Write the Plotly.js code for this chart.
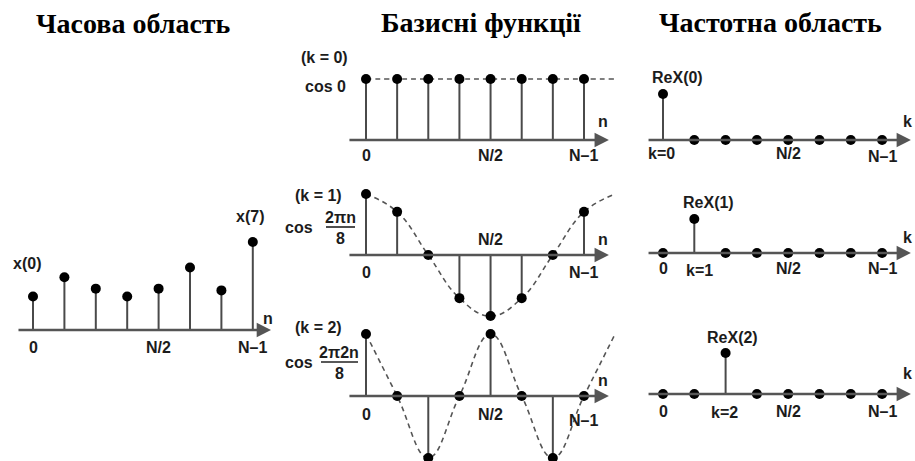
<!DOCTYPE html>
<html>
<head>
<meta charset="utf-8">
<script src="https://cdn.plot.ly/plotly-3.0.1.min.js"></script>
<style>
  html, body { margin: 0; padding: 0; background: #fff; }
  #chart { width: 915px; height: 461px; }
</style>
</head>
<body>
<div id="chart"></div>
<script>
// ---- data ----
const sampleN = [0, 1, 2, 3, 4, 5, 6, 7];
const curveN = [0, 1, 2, 3, 4, 5, 6, 7, 8];

// time-domain signal x(n)
const timeSignal = [0.38, 0.60, 0.47, 0.38, 0.47, 0.71, 0.45, 1.0];

// basis functions sampled at n = 0..7
const basisK0 = [1, 1, 1, 1, 1, 1, 1, 1];
const basisK1 = [1, 0.707, 0, -0.707, -1, -0.707, 0, 0.707];
const basisK2 = [1, 0, -1, 0, 1, 0, -1, 0];
// continuous (dashed) envelopes through n = 0..8
const curveK0 = [1, 1, 1, 1, 1, 1, 1, 1, 1];
const curveK1 = [1, 0.707, 0, -0.707, -1, -0.707, 0, 0.707, 1];
const curveK2 = [1, 0, -1, 0, 1, 0, -1, 0, 1];

// frequency domain: one nonzero ReX(k) per row
const spectrumK0 = [1.0, 0, 0, 0, 0, 0, 0, 0];
const spectrumK1 = [0, 0.74, 0, 0, 0, 0, 0, 0];
const spectrumK2 = [0, 0, 0.89, 0, 0, 0, 0, 0];

const tickLabels = ['0', 'N/2', 'N\u20131'];

// ---- layout helpers (pixel geometry of the 915x461 canvas) ----
const W = 915, H = 461;
const px = x => x / W;
const py = y => 1 - y / H;

// n0: pixel x of sample 0, step: pixels per sample, axisY: pixel y of zero,
// unit: pixels per unit of amplitude, L/R/T/B: pixel box of the panel
const panels = [
  { n0: 33,  step: 31.4,  axisY: 330, unit: 88, L: 0,   R: 300, T: 195, B: 361, x0: -0.51, x1: 7.58 },
  { n0: 366, step: 31.14, axisY: 140, unit: 61, L: 345, R: 625, T: 45,  B: 165, x0: -0.58, x1: 7.8 },
  { n0: 366, step: 31.14, axisY: 255, unit: 61, L: 345, R: 625, T: 170, B: 330, x0: -0.58, x1: 7.8 },
  { n0: 366, step: 31.14, axisY: 396, unit: 62, L: 345, R: 625, T: 310, B: 461, x0: -0.58, x1: 7.8 },
  { n0: 663, step: 31.3,  axisY: 140, unit: 46, L: 630, R: 915, T: 45,  B: 165, x0: -0.51, x1: 7.92 },
  { n0: 663, step: 31.3,  axisY: 253, unit: 46, L: 630, R: 915, T: 170, B: 300, x0: -0.51, x1: 7.92 },
  { n0: 663, step: 31.3,  axisY: 394, unit: 46, L: 630, R: 915, T: 310, B: 440, x0: -0.51, x1: 7.92 }
];

const suffix = i => (i === 0 ? '' : String(i + 1));

const layout = {
  width: W, height: H,
  margin: { l: 0, r: 0, t: 0, b: 0 },
  paper_bgcolor: '#fff', plot_bgcolor: 'rgba(0,0,0,0)',
  showlegend: false, hovermode: false,
  annotations: [], shapes: []
};

panels.forEach((p, i) => {
  const s = suffix(i);
  layout['xaxis' + s] = {
    domain: [px(p.L), px(p.R)],
    range: [(p.L - p.n0) / p.step, (p.R - p.n0) / p.step],
    visible: false, fixedrange: true, anchor: 'y' + s
  };
  layout['yaxis' + s] = {
    domain: [py(p.B), py(p.T)],
    range: [(p.axisY - p.B) / p.unit, (p.axisY - p.T) / p.unit],
    visible: false, fixedrange: true, anchor: 'x' + s
  };
  // horizontal axis with arrowhead
  layout.annotations.push({
    xref: 'x' + s, yref: 'y' + s, axref: 'x' + s, ayref: 'y' + s,
    x: p.x1, y: 0, ax: p.x0, ay: 0, text: '',
    showarrow: true, arrowhead: 2, arrowsize: 1.1, arrowwidth: 2.6,
    arrowcolor: '#555', standoff: 0
  });
});

// ---- traces ----
const traces = [];
const stemColor = '#4a4a4a';

function stems(xs, ys, s) {
  const sx = [], sy = [];
  xs.forEach((x, j) => { sx.push(x, x, null); sy.push(0, ys[j], null); });
  traces.push({
    type: 'scatter', mode: 'lines', x: sx, y: sy,
    xaxis: 'x' + s, yaxis: 'y' + s,
    line: { color: stemColor, width: 2 }, hoverinfo: 'skip'
  });
}
function dots(xs, ys, s) {
  traces.push({
    type: 'scatter', mode: 'markers', x: xs, y: ys,
    xaxis: 'x' + s, yaxis: 'y' + s,
    marker: { color: '#000', size: 10 }, hoverinfo: 'skip'
  });
}
function envelope(xs, ys, s) {
  traces.push({
    type: 'scatter', mode: 'lines', x: xs, y: ys,
    xaxis: 'x' + s, yaxis: 'y' + s,
    line: { color: '#555', width: 1.6, dash: '5px,4px', shape: 'spline', smoothing: 1.2 },
    hoverinfo: 'skip'
  });
}

// time domain
stems(sampleN, timeSignal, suffix(0));
dots(sampleN, timeSignal, suffix(0));

// basis functions
[[basisK0, curveK0], [basisK1, curveK1], [basisK2, curveK2]].forEach(([b, c], j) => {
  const s = suffix(j + 1);
  envelope(curveN, c, s);
  stems(sampleN, b, s);
  dots(sampleN, b, s);
});

// frequency domain
[spectrumK0, spectrumK1, spectrumK2].forEach((sp, j) => {
  const s = suffix(j + 4);
  stems(sampleN, sp, s);
  dots(sampleN, sp, s);
});

// ---- text ----
const labelFont = { family: 'Liberation Sans, Arial, sans-serif', size: 16, color: '#1c1c1c' };
const titleFont = { family: 'Liberation Serif, Times New Roman, serif', size: 28, color: '#000' };

function textAt(txt, x, y, font) {
  layout.annotations.push({
    xref: 'paper', yref: 'paper', x: px(x), y: py(y),
    xanchor: 'center', yanchor: 'middle', showarrow: false,
    text: txt, font: font || labelFont
  });
}
function tickAt(txt, s, n, y) {
  layout.annotations.push({
    xref: 'x' + s, yref: 'paper', x: n, y: py(y),
    xanchor: 'center', yanchor: 'middle', showarrow: false,
    text: '<b>' + txt + '</b>', font: labelFont
  });
}
function fractionBar(xa, xb, y) {
  layout.shapes.push({
    type: 'line', xref: 'paper', yref: 'paper',
    x0: px(xa), x1: px(xb), y0: py(y), y1: py(y),
    line: { color: '#222', width: 1.6 }
  });
}

// titles
textAt('<b>Часова область</b>', 133, 24, titleFont);
textAt('<b>Базисні функції</b>', 481, 22, titleFont);
textAt('<b>Частотна область</b>', 770, 22, titleFont);

// time domain labels
textAt('<b>x(0)</b>', 27, 263);
textAt('<b>x(7)</b>', 250, 216);
textAt('<b>n</b>', 268, 318);
tickAt(tickLabels[0], suffix(0), 0, 347);
tickAt(tickLabels[1], suffix(0), 4, 347);
tickAt(tickLabels[2], suffix(0), 7, 347);

// k = 0
textAt('<b>(k = 0)</b>', 324, 58);
textAt('<b>cos 0</b>', 325, 87);
textAt('<b>n</b>', 603, 122);
tickAt(tickLabels[0], suffix(1), 0, 155);
tickAt(tickLabels[1], suffix(1), 4, 155);
tickAt(tickLabels[2], suffix(1), 7, 155);

// k = 1
textAt('<b>(k = 1)</b>', 318, 195);
textAt('<b>cos</b>', 299, 227);
textAt('<b>2\u03c0n</b>', 340, 217);
fractionBar(326, 355, 227);
textAt('<b>8</b>', 340, 238);
textAt('<b>n</b>', 603, 240);
tickAt(tickLabels[0], suffix(2), 0, 272);
tickAt(tickLabels[1], suffix(2), 4, 240);
tickAt(tickLabels[2], suffix(2), 7, 272);

// k = 2
textAt('<b>(k = 2)</b>', 318, 327);
textAt('<b>cos</b>', 299, 362);
textAt('<b>2\u03c02n</b>', 339, 352);
fractionBar(321, 358, 362);
textAt('<b>8</b>', 339, 373);
textAt('<b>n</b>', 603, 380);
tickAt(tickLabels[0], suffix(3), 0, 414);
tickAt(tickLabels[1], suffix(3), 4, 414);
tickAt(tickLabels[2], suffix(3), 7, 420);
textAt('<b>(k = 3)</b>', 318, 468);

// frequency domain labels
textAt('<b>ReX(0)</b>', 677, 77);
textAt('<b>k=0</b>', 661, 153);
tickAt(tickLabels[1], suffix(4), 4, 153);
tickAt(tickLabels[2], suffix(4), 7, 157);
textAt('<b>k</b>', 907, 122);

textAt('<b>ReX(1)</b>', 708, 203);
tickAt(tickLabels[0], suffix(5), 0, 268);
textAt('<b>k=1</b>', 699, 270);
tickAt(tickLabels[1], suffix(5), 4, 268);
tickAt(tickLabels[2], suffix(5), 7, 268);
textAt('<b>k</b>', 907, 237);

textAt('<b>ReX(2)</b>', 732, 337);
tickAt(tickLabels[0], suffix(6), 0, 411);
textAt('<b>k=2</b>', 724, 412);
tickAt(tickLabels[1], suffix(6), 4, 411);
tickAt(tickLabels[2], suffix(6), 7, 411);
textAt('<b>k</b>', 907, 373);

Plotly.newPlot('chart', traces, layout, { staticPlot: true, displayModeBar: false });
</script>
</body>
</html>
